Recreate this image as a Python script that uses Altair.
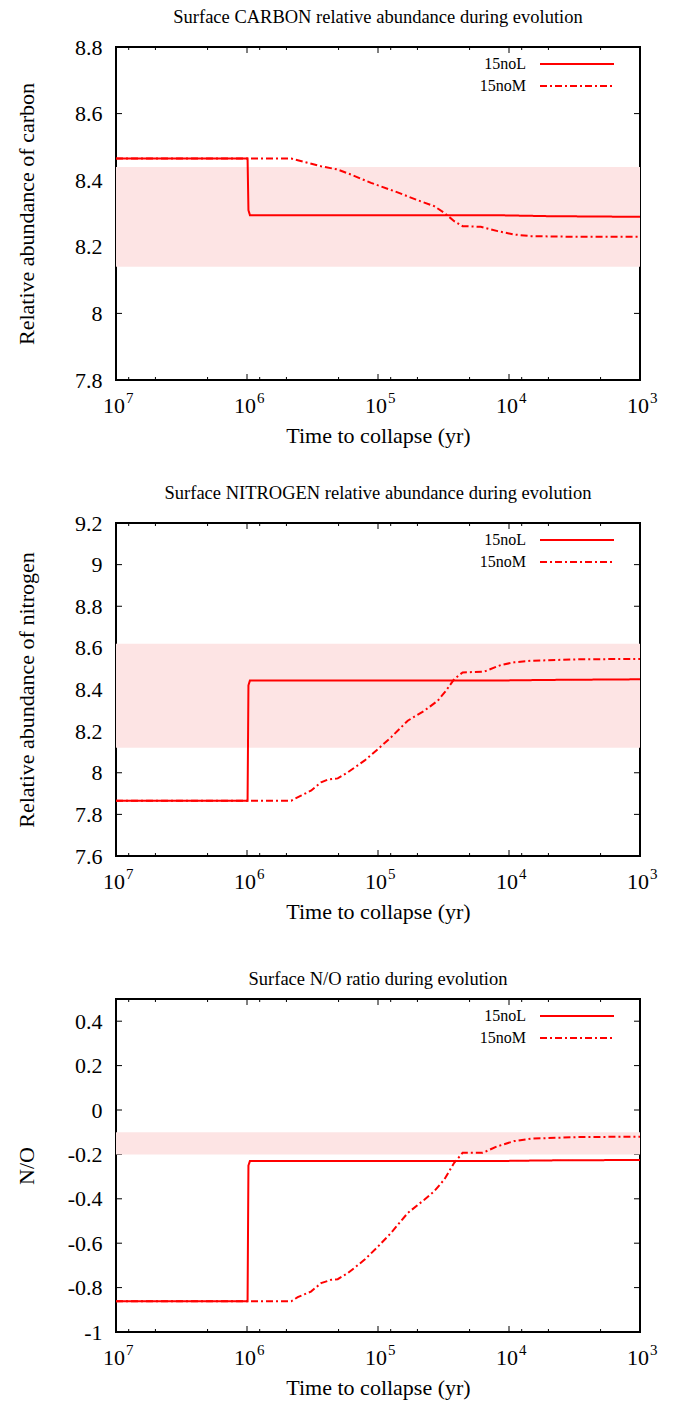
import altair as alt
import pandas as pd

FONT = "Liberation Serif"
W, H = 524, 333

# ---------------- data ----------------
SERIES = ["15noL", "15noM"]
X_MAJOR = [1e7, 1e6, 1e5, 1e4, 1e3]
X_EXP = ["7", "6", "5", "4", "3"]
X_MINOR = [8e6, 5e6, 2e6, 8e5, 5e5, 2e5, 8e4, 5e4, 2e4, 8e3, 5e3, 2e3]

# Carbon panel
C_TITLE = "Surface CARBON relative abundance during evolution"
C_YTITLE = "Relative abundance of carbon"
C_YDOM = [7.8, 8.8]
C_YTICKS = [7.8, 8.0, 8.2, 8.4, 8.6, 8.8]
C_BAND = [8.14, 8.44]
C_L_t = [1e7, 9.9e5, 9.75e5, 9.5e5, 1.3e4, 5e3, 1e3]
C_L_v = [8.465, 8.465, 8.31, 8.295, 8.295, 8.292, 8.29]
C_M_t = [1e7, 4.6e5, 2.72e5, 2.03e5, 1.61e5, 1.13e5, 7.5e4, 4.98e4, 3.72e4,
         3.12e4, 2.62e4, 2.26e4, 1.64e4, 1.22e4, 9.2e3, 6.8e3, 3e3, 1e3]
C_M_v = [8.465, 8.465, 8.442, 8.432, 8.417, 8.392, 8.367, 8.340, 8.322,
         8.302, 8.277, 8.262, 8.260, 8.247, 8.237, 8.232, 8.23, 8.23]

# Nitrogen panel
N_TITLE = "Surface NITROGEN relative abundance during evolution"
N_YTITLE = "Relative abundance of nitrogen"
N_YDOM = [7.6, 9.2]
N_YTICKS = [7.6, 7.8, 8.0, 8.2, 8.4, 8.6, 8.8, 9.0, 9.2]
N_BAND = [8.12, 8.62]
N_L_t = [1e7, 9.9e5, 9.75e5, 9.5e5, 1.3e4, 5e3, 1e3]
N_L_v = [7.866, 7.866, 8.42, 8.443, 8.443, 8.446, 8.449]
N_M_t = [1e7, 4.6e5, 3.87e5, 3.25e5, 2.72e5, 2.42e5, 2.03e5, 1.70e5, 1.27e5,
         1.0e5, 7.96e4, 5.93e4, 4.43e4, 3.50e4, 3.03e4, 2.62e4, 2.26e4,
         1.55e4, 1.15e4, 9.1e3, 6.8e3, 3e3, 1e3]
N_M_v = [7.866, 7.866, 7.890, 7.914, 7.954, 7.967, 7.973, 8.002, 8.058,
         8.114, 8.170, 8.250, 8.298, 8.346, 8.394, 8.450, 8.482,
         8.486, 8.518, 8.531, 8.538, 8.545, 8.547]

# N/O panel
O_TITLE = "Surface N/O ratio during evolution"
O_YTITLE = "N/O"
O_YDOM = [-1.0, 0.5]
O_YTICKS = [-1.0, -0.8, -0.6, -0.4, -0.2, 0.0, 0.2, 0.4]
O_BAND = [-0.20, -0.10]
O_L_t = [1e7, 9.9e5, 9.75e5, 9.5e5, 1.3e4, 5e3, 1e3]
O_L_v = [-0.862, -0.862, -0.25, -0.230, -0.230, -0.227, -0.225]
O_M_t = [1e7, 4.6e5, 4.1e5, 3.25e5, 2.72e5, 2.28e5, 2.03e5, 1.70e5, 1.27e5,
         1.0e5, 7.96e4, 5.93e4, 4.43e4, 3.72e4, 3.12e4, 2.62e4, 2.26e4,
         1.59e4, 1.22e4, 9.1e3, 6.8e3, 3e3, 1e3]
O_M_v = [-0.862, -0.862, -0.843, -0.818, -0.780, -0.765, -0.762, -0.735, -0.675,
         -0.615, -0.554, -0.464, -0.404, -0.366, -0.313, -0.238, -0.193,
         -0.193, -0.163, -0.140, -0.129, -0.122, -0.120]

DASHES = [[1, 0], [7, 3, 2, 3]]
RED = "#ff0000"
BAND_COLOR = "#fde4e4"
FS = 22


def panel(title, ytitle, ydom, yticks, band, tL, vL, tM, vM):
    xs = alt.Scale(type="log", domain=[1e3, 1e7], reverse=True, nice=False)
    ys = alt.Scale(domain=ydom, nice=False, zero=False)
    xaxis = alt.Axis(
        title="Time to collapse (yr)", labels=False, ticks=False, domain=False,
        grid=False, titleFont=FONT, titleFontSize=FS, titleFontWeight="normal",
        titleColor="black", titleY=55, titleBaseline="middle")
    yaxis = alt.Axis(
        title=ytitle, values=yticks, ticks=False, tickSize=0, domain=False,
        grid=False, labelPadding=14, labelFont=FONT, labelFontSize=FS,
        labelColor="black",
        labelExpr="datum.value < 0 ? '-' + format(-datum.value, '~g') : format(datum.value, '~g')",
        titleFont=FONT, titleFontSize=FS, titleFontWeight="normal",
        titleColor="black", titleX=-90, titleY=H / 2, titleBaseline="middle")

    def X(f):
        return alt.X(f, scale=xs, axis=xaxis)

    def Y(f):
        return alt.Y(f, scale=ys, axis=yaxis)

    rows = []
    for i, (t, v) in enumerate(zip(tL, vL)):
        rows.append({"t": t, "v": v, "series": SERIES[0], "idx": i})
    for i, (t, v) in enumerate(zip(tM, vM)):
        rows.append({"t": t, "v": v, "series": SERIES[1], "idx": i})
    df = pd.DataFrame(rows)

    xmaj = pd.DataFrame({"t": X_MAJOR, "e": X_EXP})
    xmin = pd.DataFrame({"t": X_MINOR})
    ytk = pd.DataFrame({"v": yticks})
    bdf = pd.DataFrame({"lo": [band[0]], "hi": [band[1]]})

    layers = []
    lines = alt.Chart(df).mark_line(color=RED, strokeWidth=2, clip=True).encode(
        x=X("t:Q"), y=Y("v:Q"),
        strokeDash=alt.StrokeDash("series:N", scale=alt.Scale(domain=SERIES, range=DASHES),
                                  legend=None),
        order="idx:Q",
        detail="series:N",
    )
    # inward ticks, x (bottom and top)
    for d, ln in ((xmaj, 6), (xmin, 3)):
        layers.append(alt.Chart(d).mark_rule(color="black", strokeWidth=1).encode(
            x=X("t:Q"), y=alt.value(H), y2=alt.value(H - ln)))
        layers.append(alt.Chart(d).mark_rule(color="black", strokeWidth=1).encode(
            x=X("t:Q"), y=alt.value(0), y2=alt.value(ln)))
    # inward ticks, y (left and right)
    layers.append(alt.Chart(ytk).mark_rule(color="black", strokeWidth=1).encode(
        y=Y("v:Q"), x=alt.value(0), x2=alt.value(6)))
    layers.append(alt.Chart(ytk).mark_rule(color="black", strokeWidth=1).encode(
        y=Y("v:Q"), x=alt.value(W - 6), x2=alt.value(W)))
    # observed band
    layers.append(alt.Chart(bdf).mark_rect(color=BAND_COLOR, opacity=1).encode(
        y=Y("lo:Q"), y2="hi:Q", x=alt.value(0), x2=alt.value(W)))
    layers.append(lines)
    # manual key, top right
    for i, s in enumerate(SERIES):
        sdf = pd.DataFrame({"series": [s]})
        layers.append(alt.Chart(sdf).mark_text(
            align="right", baseline="middle", font=FONT, fontSize=16, color="black").encode(
            text="series:N", x=alt.value(W - 114), y=alt.value(17 + 22 * i)))
        layers.append(alt.Chart(sdf).mark_rule(
            color=RED, strokeWidth=2, strokeDash=DASHES[i]).encode(
            x=alt.value(W - 100), x2=alt.value(W - 26), y=alt.value(17 + 22 * i)))
    # x tick labels 10^n
    layers.append(alt.Chart(xmaj).mark_text(
        text="10", align="center", baseline="middle", font=FONT, fontSize=FS,
        color="black", dx=-2).encode(x=X("t:Q"), y=alt.value(H + 26)))
    layers.append(alt.Chart(xmaj).mark_text(
        align="left", baseline="middle", font=FONT, fontSize=15,
        color="black", dx=10).encode(x=X("t:Q"), text="e:N", y=alt.value(H + 18)))

    return alt.layer(*layers).properties(
        width=W, height=H,
        title=alt.TitleParams(title, font=FONT, fontSize=18.5, fontWeight="normal",
                              color="black", offset=10, anchor="middle"))


p1 = panel(C_TITLE, C_YTITLE, C_YDOM, C_YTICKS, C_BAND, C_L_t, C_L_v, C_M_t, C_M_v)
p2 = panel(N_TITLE, N_YTITLE, N_YDOM, N_YTICKS, N_BAND, N_L_t, N_L_v, N_M_t, N_M_v)
p3 = panel(O_TITLE, O_YTITLE, O_YDOM, O_YTICKS, O_BAND, O_L_t, O_L_v, O_M_t, O_M_v)

chart = alt.vconcat(p1, p2, p3, spacing=143, bounds="flush").properties(
    padding={"left": 14, "top": 6, "right": 5, "bottom": 5},
    background="white",
).configure_view(stroke="black", strokeWidth=2)

chart.save("out.html", embed_options={"renderer": "svg", "actions": False})
